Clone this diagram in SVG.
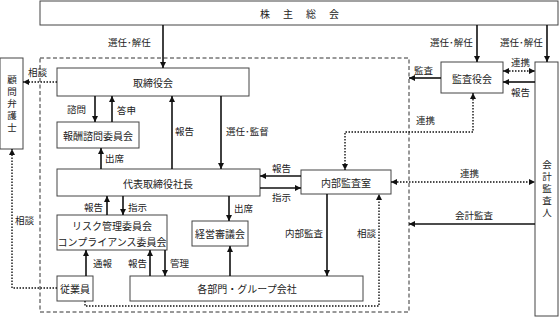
<svg xmlns="http://www.w3.org/2000/svg" width="560" height="321" viewBox="0 0 560 321">
<style>
.box{fill:#fff;stroke:#444;stroke-width:1}
.t{font-family:"Noto Sans CJK JP","Noto Sans CJK SC",sans-serif;font-size:10px;fill:#222;text-anchor:middle;dominant-baseline:central}
.v{font-family:"Noto Sans CJK JP","Noto Sans CJK SC",sans-serif;font-size:9.5px;fill:#222;text-anchor:middle;writing-mode:vertical-rl;text-orientation:upright;letter-spacing:2.5px}
.l{font-family:"Noto Sans CJK JP","Noto Sans CJK SC",sans-serif;font-size:9.5px;fill:#222;dominant-baseline:central}
.c{fill:none;stroke:#111;stroke-width:1.6}
.d{fill:none;stroke:#111;stroke-width:1.4;stroke-dasharray:1.5 1.5}
.frame{fill:none;stroke:#333;stroke-width:1;stroke-dasharray:4 2.5}
</style>
<defs>
<marker id="ah" viewBox="0 0 10 10" refX="10" refY="5" markerWidth="6" markerHeight="6" orient="auto-start-reverse" markerUnits="userSpaceOnUse"><path d="M0,0 L10,5 L0,10 z" fill="#111"/></marker>
</defs>

<rect class="frame" x="40" y="58" width="369" height="254"/>

<g id="shareholders"><rect class="box" x="40" y="1" width="518" height="24"/>
<text class="t" x="265" y="13">株</text><text class="t" x="288" y="13">主</text><text class="t" x="311" y="13">総</text><text class="t" x="334" y="13">会</text></g>

<g id="board"><rect class="box" x="57" y="68" width="192" height="28"/><text class="t" x="153" y="82">取締役会</text></g>

<g id="advisor"><rect class="box" x="0" y="58" width="23" height="91"/>
<text class="v" x="12" y="105">顧問弁護士</text></g>

<g id="compensation"><rect class="box" x="57" y="122" width="82" height="26"/><text class="t" x="98" y="135">報酬諮問委員会</text></g>

<g id="president"><rect class="box" x="57" y="169" width="203" height="27"/><text class="t" x="158" y="183">代表取締役社長</text></g>

<g id="internal-audit"><rect class="box" x="301" y="170" width="90" height="24"/><text class="t" x="346" y="182">内部監査室</text></g>

<g id="audit-board"><rect class="box" x="441" y="62" width="62" height="31"/><text class="t" x="472" y="78">監査役会</text></g>

<g id="accounting-auditor"><rect class="box" x="535" y="62" width="23" height="254"/>
<text class="v" x="547" y="190">会計監査人</text></g>

<g id="risk"><rect class="box" x="57" y="215" width="110" height="35"/>
<text class="t" x="112" y="225">リスク管理委員会</text><text class="t" x="112" y="241">コンプライアンス委員会</text></g>

<g id="management-council"><rect class="box" x="192" y="221" width="56" height="25"/><text class="t" x="220" y="233">経営審議会</text></g>

<g id="employees"><rect class="box" x="57" y="276" width="36" height="25"/><text class="t" x="75" y="288">従業員</text></g>

<g id="divisions"><rect class="box" x="130" y="276" width="233" height="25"/><text class="t" x="247" y="288">各部門・グループ会社</text></g>

<g id="connectors">
<path class="c" d="M163,25 V68" marker-end="url(#ah)"/>
<path class="c" d="M477,25 V62" marker-end="url(#ah)"/>
<path class="c" d="M547,25 V62" marker-end="url(#ah)"/>
<path class="d" d="M57,82 H23" marker-end="url(#ah)"/>
<path class="c" d="M95,96 V122" marker-end="url(#ah)"/>
<path class="c" d="M112,122 V96" marker-end="url(#ah)"/>
<path class="c" d="M101,169 V148" marker-end="url(#ah)"/>
<path class="c" d="M172,169 V96" marker-end="url(#ah)"/>
<path class="c" d="M221,96 V169" marker-end="url(#ah)"/>
<path class="c" d="M301,176 H260" marker-end="url(#ah)"/>
<path class="c" d="M260,188 H301" marker-end="url(#ah)"/>
<path class="c" d="M441,78 H409" marker-end="url(#ah)"/>
<path class="d" d="M503,71 H535" marker-start="url(#ah)" marker-end="url(#ah)"/>
<path class="c" d="M535,82 H503" marker-end="url(#ah)"/>
<path class="d" d="M473,93 V132 H345 V170" marker-start="url(#ah)" marker-end="url(#ah)"/>
<path class="d" d="M391,182 H535" marker-start="url(#ah)" marker-end="url(#ah)"/>
<path class="c" d="M535,224 H409" marker-end="url(#ah)"/>
<path class="c" d="M107,215 V196" marker-end="url(#ah)"/>
<path class="c" d="M123,196 V215" marker-end="url(#ah)"/>
<path class="c" d="M229,196 V221" marker-end="url(#ah)"/>
<path class="c" d="M86,276 V250" marker-end="url(#ah)"/>
<path class="c" d="M150,276 V250" marker-end="url(#ah)"/>
<path class="c" d="M165,250 V276" marker-end="url(#ah)"/>
<path class="c" d="M230,276 V246" marker-end="url(#ah)"/>
<path class="c" d="M327,194 V276" marker-end="url(#ah)"/>
<path class="d" d="M57,288 H12 V149" marker-end="url(#ah)"/>
<path class="d" d="M85,301 V306 H379 V194" marker-end="url(#ah)"/>
</g>

<g id="labels">
<text class="l" x="108" y="42">選任･解任</text>
<text class="l" x="430" y="42">選任･解任</text>
<text class="l" x="500" y="42">選任･解任</text>
<text class="l" x="28" y="72">相談</text>
<text class="l" x="67" y="109">諮問</text>
<text class="l" x="117" y="110">答申</text>
<text class="l" x="105" y="158">出席</text>
<text class="l" x="175" y="131">報告</text>
<text class="l" x="226" y="131">選任･監督</text>
<text class="l" x="272" y="168">報告</text>
<text class="l" x="272" y="197">指示</text>
<text class="l" x="414" y="70">監査</text>
<text class="l" x="511" y="62">連携</text>
<text class="l" x="511" y="92">報告</text>
<text class="l" x="416" y="120">連携</text>
<text class="l" x="460" y="173">連携</text>
<text class="l" x="455" y="215">会計監査</text>
<text class="l" x="84" y="207">報告</text>
<text class="l" x="128" y="207">指示</text>
<text class="l" x="234" y="208">出席</text>
<text class="l" x="15" y="220">相談</text>
<text class="l" x="285" y="233">内部監査</text>
<text class="l" x="357" y="233">相談</text>
<text class="l" x="93" y="263">通報</text>
<text class="l" x="128" y="263">報告</text>
<text class="l" x="170" y="263">管理</text>
</g>
</svg>
